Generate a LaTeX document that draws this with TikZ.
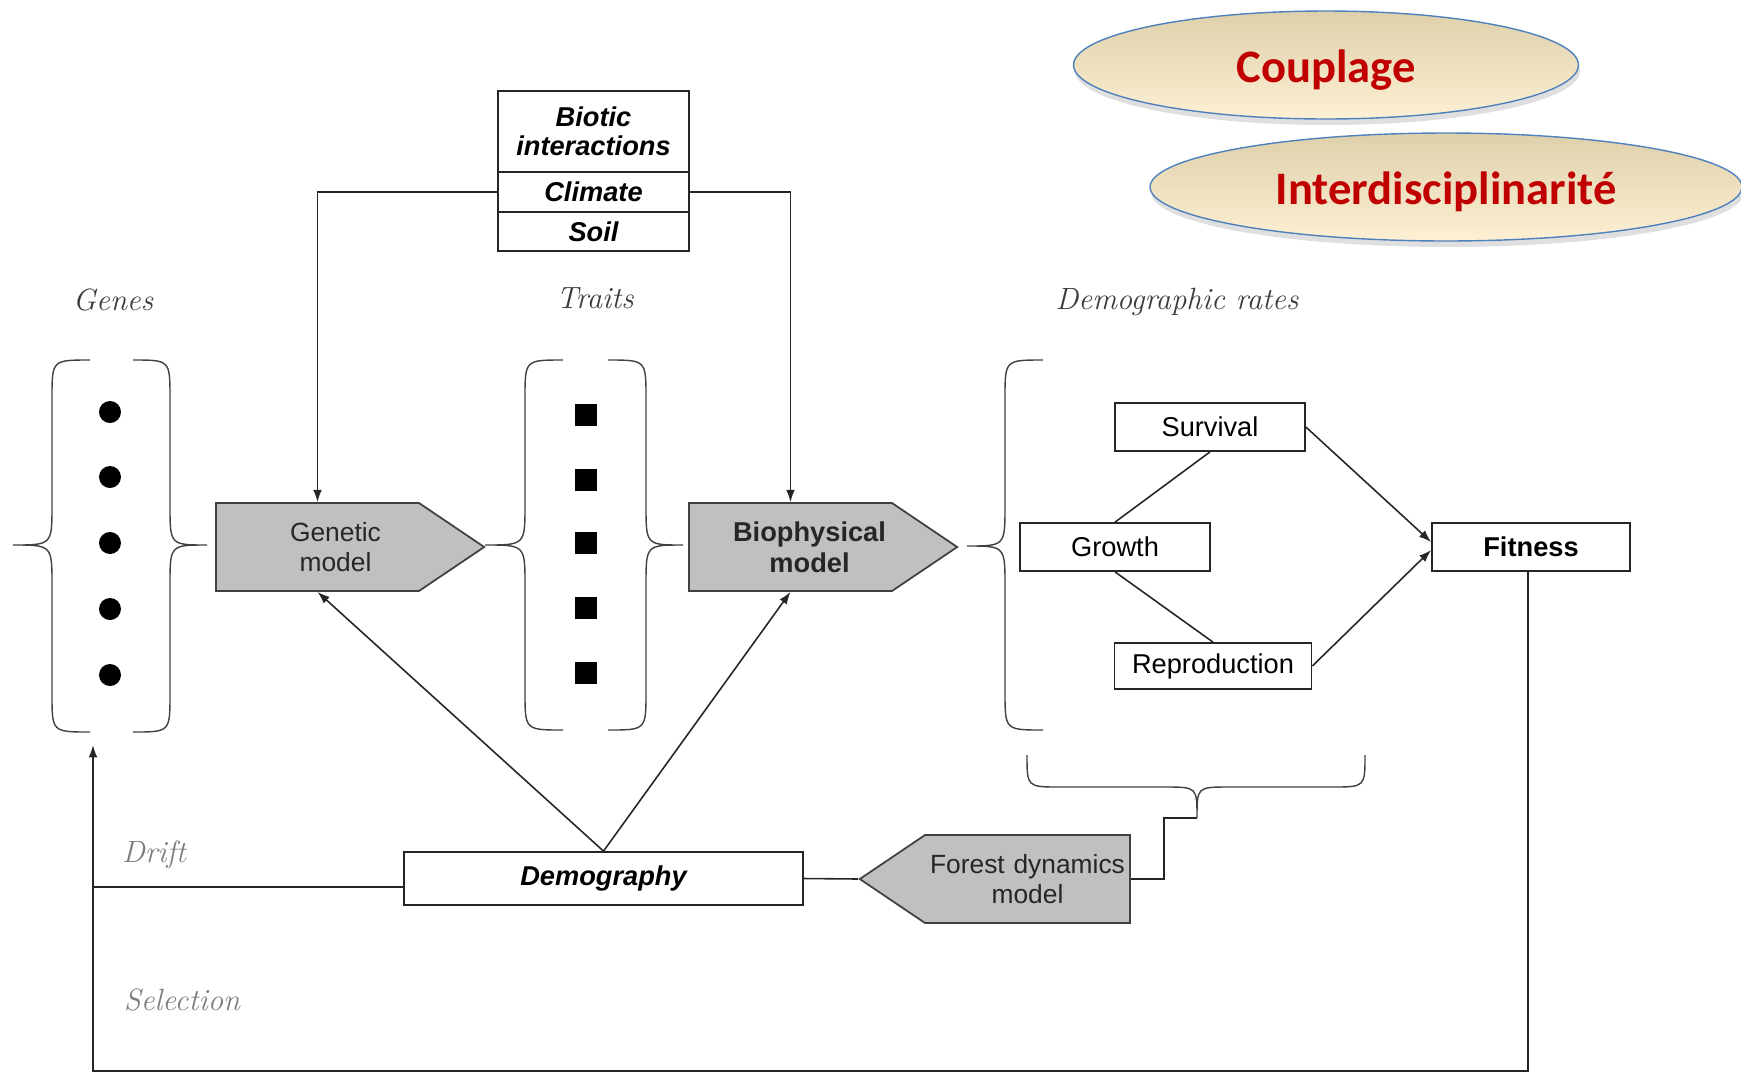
\documentclass[tikz,border=0pt]{standalone}
\usepackage{fontspec}
\setsansfont{Liberation Sans}
\newfontfamily\calibrifont{Carlito}
\usetikzlibrary{positioning, arrows.meta, shapes.geometric, shapes.symbols, shadows}

\definecolor{modelgray}{RGB}{192,192,192}
\definecolor{labelgray}{RGB}{60,60,60}
\definecolor{lightlabel}{RGB}{125,125,125}
\definecolor{keyred}{RGB}{192,0,0}
\definecolor{keyedge}{RGB}{79,129,189}
\definecolor{keytop}{RGB}{222,208,170}
\definecolor{keybottom}{RGB}{253,240,212}

% ends x, spine x, tip x, top y, mid y, bottom y
\newcommand{\curlybrace}[6]{%
  \draw[bracestyle] (#1,#4) .. controls (#2,#4) .. (#2,#4+38)
    -- (#2,#5-40) .. controls (#2,#5) .. (#3,#5)
    .. controls (#2,#5) .. (#2,#5+40)
    -- (#2,#6-38) .. controls (#2,#6) .. (#1,#6);}

\tikzset{
  conn/.style={line width=0.9pt, draw=black!85},
  arrow/.style={conn, -{Latex[length=7pt,width=5pt]}},
  bracestyle/.style={line width=0.8pt, draw=black!75},
  model/.style={shape=signal, signal pointer angle=68, draw=black!75, fill=modelgray,
    line width=1pt, inner xsep=0pt, text width=4.06cm, minimum height=1.76cm,
    align=center, text=black!85, font=\sffamily\fontsize{15}{17.5}\selectfont},
  envbox/.style={draw=black!85, line width=1pt, outer sep=0pt, minimum width=3.82cm,
    align=center, font=\sffamily\bfseries\itshape\fontsize{15.5}{16.5}\selectfont},
  ratebox/.style={draw=black!85, line width=1pt, minimum height=0.96cm,
    font=\sffamily\fontsize{15.5}{18}\selectfont},
  axislabel/.style={text=labelgray, font=\itshape\fontsize{17.5}{21}\selectfont},
  evolabel/.style={axislabel, text=lightlabel},
  keyword/.style={ellipse, draw=keyedge, line width=0.8pt, top color=keytop,
    bottom color=keybottom, minimum height=2.16cm, text=keyred,
    font=\calibrifont\bfseries\fontsize{26.5}{30}\selectfont,
    drop shadow={opacity=0.25, shadow xshift=0.03cm, shadow yshift=-0.12cm}},
  genedot/.style={circle, fill=black, inner sep=0pt, minimum size=0.44cm},
  traitsq/.style={rectangle, fill=black, inner sep=0pt, minimum size=0.44cm}
}

\begin{document}
\begin{tikzpicture}[x=0.02cm, y=-0.02cm]
  \useasboundingbox (0,0) rectangle (1741,1073);

  % Keywords
  \node[keyword, minimum width=10.1cm] (coupl) at (1326,65)
    {\raisebox{-3pt}[\height][\depth]{Couplage}};
  \node[keyword, minimum width=11.84cm] (inter) at (1446,187)
    {\raisebox{-3pt}[\height][\depth]{Interdisciplinarité}};

  % Column labels
  \node[axislabel] (genes) at (113,300) {Genes};
  \node[axislabel] (traits) at (595,298) {Traits};
  \node[axislabel] (rates) at (1177,302) {Demographic rates};
  \node[evolabel] (drift) at (154,855) {Drift};
  \node[evolabel] (sel) at (182,1000) {Selection};

  % Environment
  \node[envbox, minimum height=1.62cm] (biotic) at (593.5,131.5) {Biotic\\interactions};
  \node[envbox, minimum height=0.80cm, below=0pt of biotic] (climate) {Climate};
  \node[envbox, minimum height=0.78cm, below=0pt of climate] (soil) {Soil};

  % Models
  \node[model] (gen) at (317.5,547) {\hspace*{0.72cm}Genetic\\\hspace*{0.72cm}model};
  \node[model, font=\sffamily\bfseries\fontsize{15.5}{17.5}\selectfont] (bio) at (790.5,547)
    {\hspace*{0.76cm}Biophysical\\\hspace*{0.76cm}model};
  \node[model, signal to=west, text width=4.1cm] (forest) at (1027.5,879) {Forest dynamics\\model};

  % Demography and rates
  \node[ratebox, minimum width=7.98cm, minimum height=1.06cm,
    font=\sffamily\bfseries\itshape\fontsize{15.5}{18}\selectfont] (dem) at (603.5,878.5) {Demography};
  \node[ratebox, minimum width=3.8cm] (surv) at (1210,427) {Survival};
  \node[ratebox, minimum width=3.8cm] (grow) at (1115,547) {Growth};
  \node[ratebox, minimum width=3.94cm, minimum height=0.92cm] (repro) at (1213,666) {Reproduction};
  \node[ratebox, minimum width=3.96cm,
    font=\sffamily\bfseries\fontsize{15.5}{18}\selectfont] (fit) at (1531,547) {Fitness};

  % Genes and traits
  \foreach \y [count=\i] in {412,477,543,609,675}
    \node[genedot] (dot\i) at (110,\y) {};
  \foreach \y [count=\i] in {415,480,543,608,673}
    \node[traitsq] (sq\i) at (586,\y) {};

  % Braces
  \curlybrace{90}{52}{13}{360}{545}{732}
  \curlybrace{133}{170}{207}{360}{545}{732}
  \curlybrace{563}{525}{485}{360}{545}{730}
  \curlybrace{608}{646}{683}{360}{545}{730}
  \curlybrace{1043}{1005}{967}{360}{546}{730}
  \draw[bracestyle] (1027,755) .. controls (1027,787) .. (1060,787) -- (1165,787)
    .. controls (1197,787) .. (1197,818) .. controls (1197,787) .. (1229,787)
    -- (1332,787) .. controls (1365,787) .. (1365,755);
  \coordinate (bracetip) at (1197,818);
  \coordinate (genesin) at (93,745);

  % Connectors
  \draw[arrow] (climate.west) -| (gen.north);
  \draw[arrow] (climate.east) -| (bio.north);
  \draw[arrow] (dem.north) -- (gen.south);
  \draw[arrow] (dem.north) -- (bio.south);
  \draw[conn] (surv.south) -- (grow.north);
  \draw[conn] (grow.south) -- (repro.north);
  \draw[arrow] (surv.east) -- ([yshift=0.1cm]fit.west);
  \draw[arrow] (repro.east) -- ([yshift=-0.06cm]fit.west);
  \draw[conn] (dem.east) -- (forest.west);
  \draw[conn] (forest.east) -- ++(33,0) |- (bracetip);
  \draw[conn] ([yshift=-0.17cm]dem.west) -- ++(-311,0);
  \draw[arrow] ([xshift=-0.06cm]fit.south) -- ++(0,499) -| (genesin);
\end{tikzpicture}
\end{document}
